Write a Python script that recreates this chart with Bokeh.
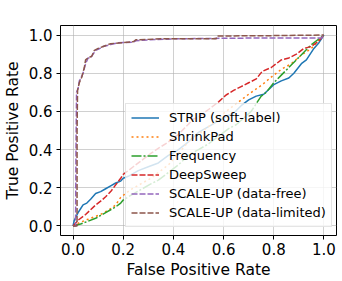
from bokeh.plotting import figure
from bokeh.embed import file_html
from bokeh.resources import INLINE
from bokeh.models import Range1d, FixedTicker, Legend, LegendItem

# ---- data ----
strip_x = [0, 0.005, 0.02, 0.03, 0.04, 0.055, 0.07, 0.09, 0.11, 0.13, 0.15, 0.17, 0.19, 0.2,
           0.22, 0.26, 0.30, 0.34, 0.38, 0.41, 0.45, 0.48, 0.5, 0.54, 0.58, 0.62, 0.64, 0.67,
           0.70, 0.73, 0.76, 0.80, 0.83, 0.86, 0.88, 0.91, 0.93, 0.96, 0.98, 1.0]
strip_y = [0, 0.03, 0.07, 0.09, 0.11, 0.12, 0.14, 0.17, 0.18, 0.195, 0.21, 0.225, 0.235, 0.25,
           0.26, 0.29, 0.31, 0.33, 0.37, 0.39, 0.43, 0.465, 0.49, 0.52, 0.55, 0.58, 0.59, 0.63,
           0.66, 0.68, 0.69, 0.74, 0.76, 0.775, 0.80, 0.85, 0.87, 0.93, 0.96, 1.0]

shrink_x = [0, 0.03, 0.06, 0.09, 0.11, 0.13, 0.15, 0.17, 0.19, 0.2, 0.23, 0.27, 0.31, 0.34,
            0.38, 0.42, 0.46, 0.48, 0.52, 0.56, 0.60, 0.65, 0.70, 0.754, 0.79, 0.83, 0.87,
            0.91, 0.95, 1.0]
shrink_y = [0, 0.02, 0.035, 0.05, 0.06, 0.075, 0.09, 0.11, 0.15, 0.16, 0.19, 0.22, 0.25, 0.28,
            0.32, 0.38, 0.44, 0.46, 0.50, 0.54, 0.59, 0.64, 0.69, 0.74, 0.78, 0.82, 0.85,
            0.895, 0.93, 1.0]

freq_x = [0, 0.03, 0.06, 0.09, 0.11, 0.13, 0.15, 0.17, 0.19, 0.2, 0.23, 0.27, 0.31, 0.34,
          0.38, 0.42, 0.46, 0.5, 0.54, 0.58, 0.62, 0.65, 0.68, 0.71, 0.75, 0.77, 0.80, 0.83,
          0.86, 0.89, 0.92, 0.95, 1.0]
freq_y = [0, 0.01, 0.025, 0.04, 0.055, 0.07, 0.085, 0.10, 0.12, 0.136, 0.16, 0.19, 0.22, 0.24,
          0.28, 0.32, 0.37, 0.40, 0.43, 0.47, 0.51, 0.53, 0.565, 0.60, 0.68, 0.70, 0.75, 0.79,
          0.83, 0.87, 0.91, 0.95, 1.0]

deep_x = [0, 0.02, 0.05, 0.09, 0.11, 0.13, 0.15, 0.17, 0.19, 0.2, 0.24, 0.28, 0.31, 0.344,
          0.38, 0.42, 0.45, 0.48, 0.5, 0.54, 0.58, 0.61, 0.64, 0.67, 0.70, 0.73, 0.754, 0.79,
          0.83, 0.86, 0.89, 0.92, 0.95, 0.98, 1.0]
deep_y = [0, 0.03, 0.06, 0.11, 0.13, 0.153, 0.18, 0.215, 0.25, 0.27, 0.31, 0.35, 0.38, 0.41,
          0.44, 0.48, 0.52, 0.56, 0.57, 0.61, 0.65, 0.686, 0.71, 0.73, 0.75, 0.77, 0.81, 0.83,
          0.87, 0.88, 0.90, 0.93, 0.94, 0.97, 1.0]

free_x = [0, 0.01, 0.012, 0.014, 0.02, 0.025, 0.03, 0.04, 0.05, 0.06, 0.07, 0.08, 0.09, 0.1,
          0.12, 0.15, 0.18, 0.24, 0.25, 0.30, 0.4, 0.6, 0.8, 0.99, 1.0]
free_y = [0, 0.0, 0.45, 0.70, 0.72, 0.76, 0.77, 0.80, 0.85, 0.88, 0.88, 0.90, 0.92, 0.925,
          0.94, 0.95, 0.96, 0.963, 0.97, 0.975, 0.98, 0.983, 0.985, 0.985, 1.0]

lim_x = [0, 0.016, 0.016, 0.018, 0.025, 0.035, 0.045, 0.05, 0.06, 0.075, 0.085, 0.1, 0.12,
         0.15, 0.2, 0.24, 0.25, 0.35, 0.57, 0.575, 0.8, 1.0]
lim_y = [0, 0.0, 0.5, 0.71, 0.75, 0.78, 0.83, 0.87, 0.88, 0.89, 0.92, 0.93, 0.94, 0.955,
         0.96, 0.965, 0.975, 0.98, 0.98, 0.995, 0.997, 1.0]

ticks = [0.0, 0.2, 0.4, 0.6, 0.8, 1.0]
tick_labels = {0.0: "0.0", 0.2: "0.2", 0.4: "0.4", 0.6: "0.6", 0.8: "0.8", 1.0: "1.0"}

FONT = "DejaVu Sans"

p = figure(width=342, height=281, output_backend="svg", toolbar_location=None,
           x_range=Range1d(-0.05, 1.05), y_range=Range1d(-0.05, 1.05),
           min_border_left=54, min_border_right=6, min_border_top=25, min_border_bottom=45)

p.outline_line_color = "black"
p.outline_line_width = 1
p.background_fill_color = "white"
p.border_fill_color = "white"

for ax in (p.xaxis[0], p.yaxis[0]):
    ax.ticker = FixedTicker(ticks=ticks)
    ax.major_label_overrides = tick_labels
    ax.axis_line_color = None
    ax.major_tick_in = 0
    ax.major_tick_out = 4
    ax.major_tick_line_color = "black"
    ax.minor_tick_line_color = None
    ax.major_label_text_font = FONT
    ax.major_label_text_font_size = "15px"
    ax.major_label_text_color = "black"
    ax.axis_label_text_font = FONT
    ax.axis_label_text_font_size = "15.5px"
    ax.axis_label_text_font_style = "normal"
    ax.axis_label_text_color = "black"

p.xaxis.axis_label = "False Positive Rate"
p.yaxis.axis_label = "True Positive Rate"
p.xaxis.major_label_standoff = 3
p.xaxis.axis_label_standoff = 3
p.yaxis.major_label_standoff = 4
p.yaxis.axis_label_standoff = 4

p.grid.ticker = FixedTicker(ticks=ticks)
p.grid.grid_line_color = "#b0b0b0"
p.grid.grid_line_alpha = 0.6
p.grid.grid_line_width = 1

r1 = p.line(strip_x, strip_y, line_color="#1f77b4", line_width=1.5)
r2 = p.line(shrink_x, shrink_y, line_color="#ff7f0e", line_width=1.5, line_dash="2 3")
r3 = p.line(freq_x, freq_y, line_color="#2ca02c", line_width=1.5, line_dash="10 2 2 2")
r4 = p.line(deep_x, deep_y, line_color="#d62728", line_width=1.5, line_dash="6 2")
r5 = p.line(free_x, free_y, line_color="#9467bd", line_width=1.5, line_dash="6 2")
r6 = p.line(lim_x, lim_y, line_color="#8c564b", line_width=1.5, line_dash="6 2")

legend = Legend(items=[
    LegendItem(label="STRIP (soft-label)", renderers=[r1]),
    LegendItem(label="ShrinkPad", renderers=[r2]),
    LegendItem(label="Frequency", renderers=[r3]),
    LegendItem(label="DeepSweep", renderers=[r4]),
    LegendItem(label="SCALE-UP (data-free)", renderers=[r5]),
    LegendItem(label="SCALE-UP (data-limited)", renderers=[r6]),
], location=(65, 8))
legend.label_text_font = FONT
legend.label_text_font_size = "13px"
legend.label_text_color = "black"
legend.label_height = 17
legend.glyph_height = 17
legend.glyph_width = 28
legend.label_standoff = 10
legend.spacing = 2
legend.padding = 5
legend.margin = 0
legend.background_fill_alpha = 0.8
legend.border_line_color = "#cccccc"
legend.border_line_width = 1
p.add_layout(legend, "center")

open("out.html", "w").write(file_html(p, INLINE))
